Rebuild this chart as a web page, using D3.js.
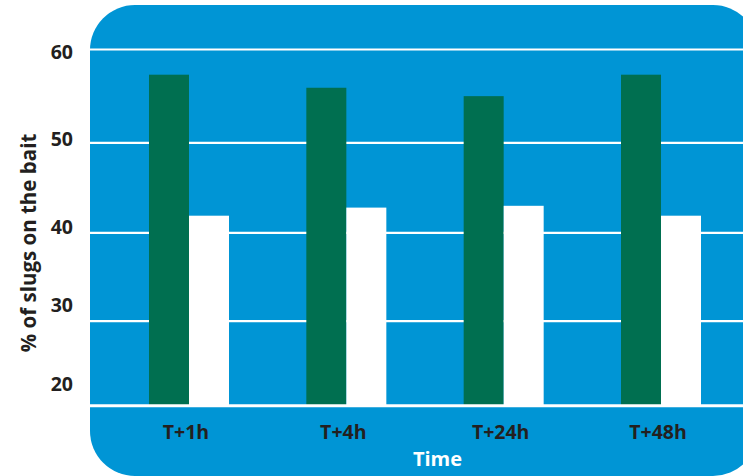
<!DOCTYPE html>
<html>
<head>
<meta charset="utf-8">
<script src="https://cdn.jsdelivr.net/npm/d3@7"></script>
<style>
  html, body { margin: 0; padding: 0; background: #ffffff; }
  svg { display: block; }
  text { font-family: "Open Sans", "Noto Sans", sans-serif; font-weight: 700; }
</style>
</head>
<body>
<svg id="chart" width="743" height="476"></svg>
<script>
// Time points after baiting
const categories = ["T+1h", "T+4h", "T+24h", "T+48h"];
// Share of slugs found on each bait type (%)
const seriesNames = ["treated", "control"];
const treatedValues = [57.3, 55.9, 55.0, 57.3];
const controlValues = [41.9, 42.8, 43.0, 41.9];
// Axis ticks
const yTicks = [20, 30, 40, 50, 60];
const yTickLabels = ["20", "30", "40", "50", "60"];

const colors = { treated: "#006f50", control: "#ffffff" };
const panelBlue = "#0095d5";
const inkDark = "#231f20";

const svg = d3.select("#chart");

// Rounded background panel (runs off the right edge)
svg.append("rect")
  .attr("x", 90).attr("y", 5)
  .attr("width", 668).attr("height", 471)
  .attr("rx", 45).attr("ry", 45)
  .attr("fill", panelBlue);

// Value axis: gridlines are not evenly spaced, so map each tick to its own position
const y = d3.scaleLinear()
  .domain(yTicks)
  .range([405.8, 321.2, 232.8, 142.8, 49.5]);

// Tick label placement
const yLabel = d3.scaleLinear()
  .domain(yTicks)
  .range([384.2, 304.5, 226.7, 138.7, 51.7]);

// Category axis
const x = d3.scalePoint()
  .domain(categories)
  .range([110.33, 739.67])
  .padding(0.5);

const sub = d3.scaleBand()
  .domain(seriesNames)
  .range([-40, 40])
  .padding(0);

// Gridlines (behind bars)
svg.append("g")
  .selectAll("line")
  .data(yTicks.filter(t => t !== 20))
  .join("line")
  .attr("x1", 90).attr("x2", 743)
  .attr("y1", d => y(d)).attr("y2", d => y(d))
  .attr("stroke", "#ffffff")
  .attr("stroke-width", 2.2);

// Bars
const rows = categories.map((c, i) => ({
  cat: c,
  values: [
    { key: "treated", value: treatedValues[i] },
    { key: "control", value: controlValues[i] }
  ]
}));

svg.append("g")
  .selectAll("g")
  .data(rows)
  .join("g")
  .attr("transform", d => `translate(${x(d.cat)},0)`)
  .selectAll("rect")
  .data(d => d.values)
  .join("rect")
  .attr("x", d => sub(d.key))
  .attr("width", sub.bandwidth())
  .attr("y", d => y(d.value))
  .attr("height", d => y(20) - y(d.value))
  .attr("fill", d => colors[d.key]);

// Baseline
svg.append("line")
  .attr("x1", 90).attr("x2", 743)
  .attr("y1", y(20)).attr("y2", y(20))
  .attr("stroke", "#ffffff")
  .attr("stroke-width", 3);

// Y tick labels
svg.append("g")
  .selectAll("text")
  .data(yTicks)
  .join("text")
  .attr("x", 73)
  .attr("y", d => yLabel(d) + 7)
  .attr("text-anchor", "end")
  .attr("font-size", 19.5)
  .attr("fill", inkDark)
  .text((d, i) => yTickLabels[i]);

// X category labels
svg.append("g")
  .selectAll("text")
  .data(categories)
  .join("text")
  .attr("x", d => x(d) - 3)
  .attr("y", 439)
  .attr("text-anchor", "middle")
  .attr("font-size", 19.5)
  .attr("fill", inkDark)
  .text(d => d);

// Axis titles
svg.append("text")
  .attr("transform", "translate(36,243) rotate(-90)")
  .attr("text-anchor", "middle")
  .attr("font-size", 20.5)
  .attr("fill", inkDark)
  .text("% of slugs on the bait");

svg.append("text")
  .attr("x", 437.5)
  .attr("y", 465.5)
  .attr("text-anchor", "middle")
  .attr("font-size", 20)
  .attr("fill", "#ffffff")
  .text("Time");
</script>
</body>
</html>
